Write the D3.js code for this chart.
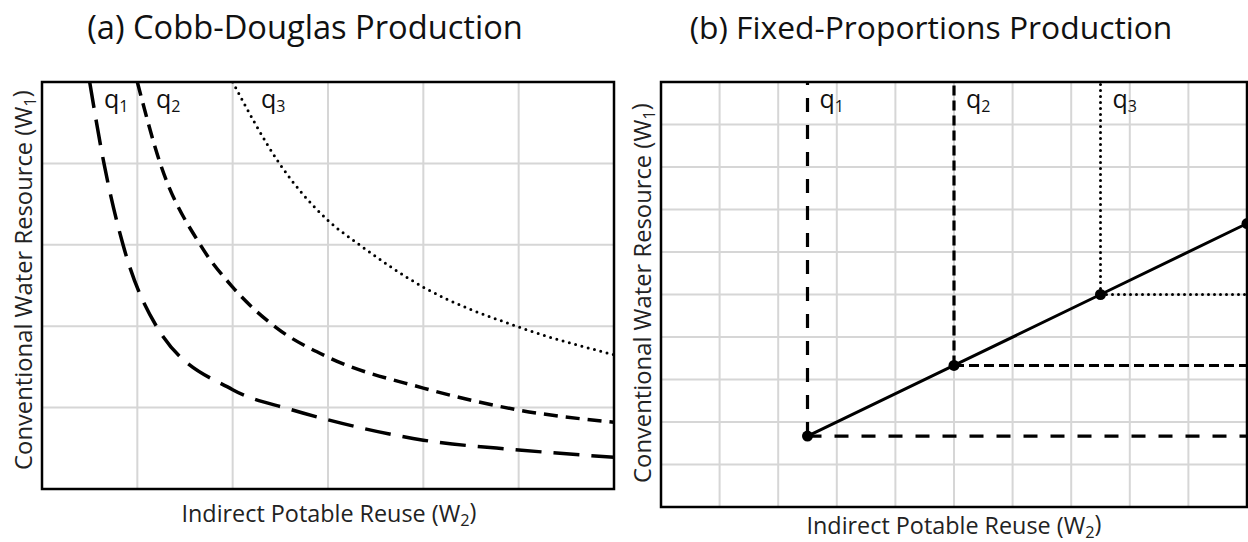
<!DOCTYPE html>
<html>
<head>
<meta charset="utf-8">
<script src="https://cdn.jsdelivr.net/npm/d3@7"></script>
<style>
  body { margin: 0; background: #fff; }
  svg { display: block; font-family: "Open Sans", Lato, sans-serif; }
  .grid line { stroke: #d6d6d6; stroke-width: 2; }
  .frame { fill: none; stroke: #000; stroke-width: 2.5; }
</style>
</head>
<body>
<svg id="chart"></svg>
<script>
(function () {
    // (a) Cobb-Douglas isoquants (grid units)
    const q1X = [0.5, 0.65, 0.85, 1.2, 2.0, 2.6, 3.0, 4.0, 5.0, 6.0];
    const q1Y = [5.0, 4.0, 3.0, 2.0, 1.22, 0.98, 0.85, 0.6, 0.48, 0.39];
    const q2X = [1.0, 1.24, 1.66, 2.0, 2.46, 3.0, 4.0, 5.0, 6.0];
    const q2Y = [5.0, 4.0, 3.0, 2.48, 1.98, 1.62, 1.24, 0.97, 0.82];
    const q3X = [2.0, 2.49, 3.0, 3.33, 4.0, 5.0, 6.0];
    const q3Y = [5.0, 4.0, 3.3, 3.0, 2.48, 1.99, 1.65];

    // (b) Fixed-proportions corner points (grid units)
    const fpX = [2.5, 5.0, 7.5, 10.0];
    const fpY = [1.67, 3.33, 5.0, 6.67];

    const isoLabels = ['1', '2', '3'];
    const titles = ['(a) Cobb-Douglas Production', '(b) Fixed-Proportions Production'];
    const xLabel = 'Indirect Potable Reuse (W';
    const xSub = '2';
    const yLabel = 'Conventional Water Resource (W';
    const ySub = '1';

    const width = 1248;
    const height = 542;

    const dashes = ['26 12', '14 8', '0 6.5'];
    const fpDashes = ['14 13', '10 5', '0 6'];

    const svg = d3.select('#chart')
        .attr('width', width)
        .attr('height', height);

    const zip = (xs, ys) => xs.map((x, i) => ({ x: x, y: ys[i] }));

    // scale a text's font size so it spans the wanted width
    function fit(sel, target) {
        const fs = parseFloat(sel.style('font-size'));
        const w = sel.node().getComputedTextLength();
        sel.style('font-size', (fs * target / w) + 'px');
        return sel;
    }

    function subText(sel, main, sub) {
        sel.append('tspan').text(main);
        sel.append('tspan').attr('dy', '0.25em').style('font-size', '0.7em').text(sub);
        sel.append('tspan').attr('dy', '-0.25em').text(')');
        return sel;
    }

    function panel(opts) {
        const xScale = d3.scaleLinear().domain([0, opts.nx]).range([opts.left, opts.right]);
        const yScale = d3.scaleLinear().domain([0, opts.ny]).range([opts.bottom, opts.top]);

        const g = svg.append('g');

        const grid = g.append('g').attr('class', 'grid');
        grid.selectAll('.vx')
            .data(d3.range(1, opts.nx))
            .join('line')
            .attr('x1', d => xScale(d)).attr('x2', d => xScale(d))
            .attr('y1', opts.top).attr('y2', opts.bottom);
        grid.selectAll('.hy')
            .data(d3.range(1, opts.ny))
            .join('line')
            .attr('y1', d => yScale(d)).attr('y2', d => yScale(d))
            .attr('x1', opts.left).attr('x2', opts.right);

        g.append('clipPath').attr('id', opts.id)
            .append('rect')
            .attr('x', opts.left).attr('y', opts.top)
            .attr('width', opts.right - opts.left)
            .attr('height', opts.bottom - opts.top);

        const plot = g.append('g').attr('clip-path', `url(#${opts.id})`);

        // title
        fit(svg.append('text')
            .attr('x', opts.titleX)
            .attr('y', 39)
            .attr('text-anchor', 'middle')
            .style('font-size', '28px')
            .attr('fill', '#111')
            .text(opts.title), opts.titleW);

        // x axis label
        fit(subText(svg.append('text')
            .attr('x', opts.xLabelX)
            .attr('y', opts.xLabelY)
            .attr('text-anchor', 'middle')
            .style('font-size', '20px')
            .attr('fill', '#222'), xLabel, xSub), 295);

        // y axis label
        fit(subText(svg.append('text')
            .attr('transform', `translate(${opts.left - 10},${opts.yLabelY}) rotate(-90)`)
            .attr('text-anchor', 'middle')
            .style('font-size', '20px')
            .attr('fill', '#222'), yLabel, ySub), 380);

        return { g, plot, xScale, yScale };
    }

    function isoLabel(x, i) {
        const t = svg.append('text').attr('x', x).attr('y', 108)
            .style('font-size', '25px').attr('fill', '#111');
        t.append('tspan').text('q');
        t.append('tspan').attr('dy', 4).style('font-size', '16px').text(isoLabels[i]);
    }

    // ---- panel (a)
    const a = panel({ id: 'clipA', left: 42, right: 614, top: 82, bottom: 489, nx: 6, ny: 5,
        title: titles[0], titleX: 305, titleW: 436, xLabelX: 329, xLabelY: 522, yLabelY: 280 });

    const curve = d3.line()
        .x(d => a.xScale(d.x))
        .y(d => a.yScale(d.y))
        .curve(d3.curveMonotoneX);

    const cdSeries = [zip(q1X, q1Y), zip(q2X, q2Y), zip(q3X, q3Y)];

    a.plot.selectAll('.iso')
        .data(cdSeries)
        .join('path')
        .attr('d', curve)
        .attr('fill', 'none')
        .attr('stroke', '#000')
        .attr('stroke-width', (d, i) => i === 2 ? 3 : 3.5)
        .attr('stroke-linecap', (d, i) => i === 2 ? 'round' : 'butt')
        .attr('stroke-dasharray', (d, i) => dashes[i]);

    a.g.append('rect').attr('class', 'frame')
        .attr('x', 42).attr('y', 82).attr('width', 572).attr('height', 407);

    [104, 156, 261].forEach(isoLabel);

    // ---- panel (b)
    const b = panel({ id: 'clipB', left: 661, right: 1247, top: 82, bottom: 507, nx: 10, ny: 10,
        title: titles[1], titleX: 931, titleW: 483, xLabelX: 954, xLabelY: 534, yLabelY: 293 });

    const corners = zip(fpX, fpY);

    // L-shaped isoquants from the first three corners
    corners.slice(0, 3).forEach((c, i) => {
        const cx = b.xScale(c.x), cy = b.yScale(c.y);
        const sw = i === 2 ? 3 : 3.2;
        const cap = i === 2 ? 'round' : 'butt';
        b.plot.append('line')
            .attr('x1', cx).attr('y1', cy)
            .attr('x2', cx).attr('y2', b.yScale(10))
            .attr('stroke', '#000').attr('stroke-width', sw)
            .attr('stroke-linecap', cap)
            .attr('stroke-dasharray', fpDashes[i]);
        b.plot.append('line')
            .attr('x1', cx).attr('y1', cy)
            .attr('x2', b.xScale(10)).attr('y2', cy)
            .attr('stroke', '#000').attr('stroke-width', sw)
            .attr('stroke-linecap', cap)
            .attr('stroke-dasharray', fpDashes[i]);
    });

    // expansion path
    b.g.append('path')
        .datum(corners)
        .attr('d', d3.line().x(d => b.xScale(d.x)).y(d => b.yScale(d.y)))
        .attr('fill', 'none')
        .attr('stroke', '#000')
        .attr('stroke-width', 3);

    b.g.selectAll('.pt')
        .data(corners)
        .join('circle')
        .attr('cx', d => b.xScale(d.x))
        .attr('cy', d => b.yScale(d.y))
        .attr('r', 5.5)
        .attr('fill', '#000');

    b.g.append('rect').attr('class', 'frame')
        .attr('x', 661).attr('y', 82).attr('width', 586).attr('height', 425);

    corners.slice(0, 3).forEach((c, i) => isoLabel(b.xScale(c.x) + 12, i));
})();
</script>
</body>
</html>
